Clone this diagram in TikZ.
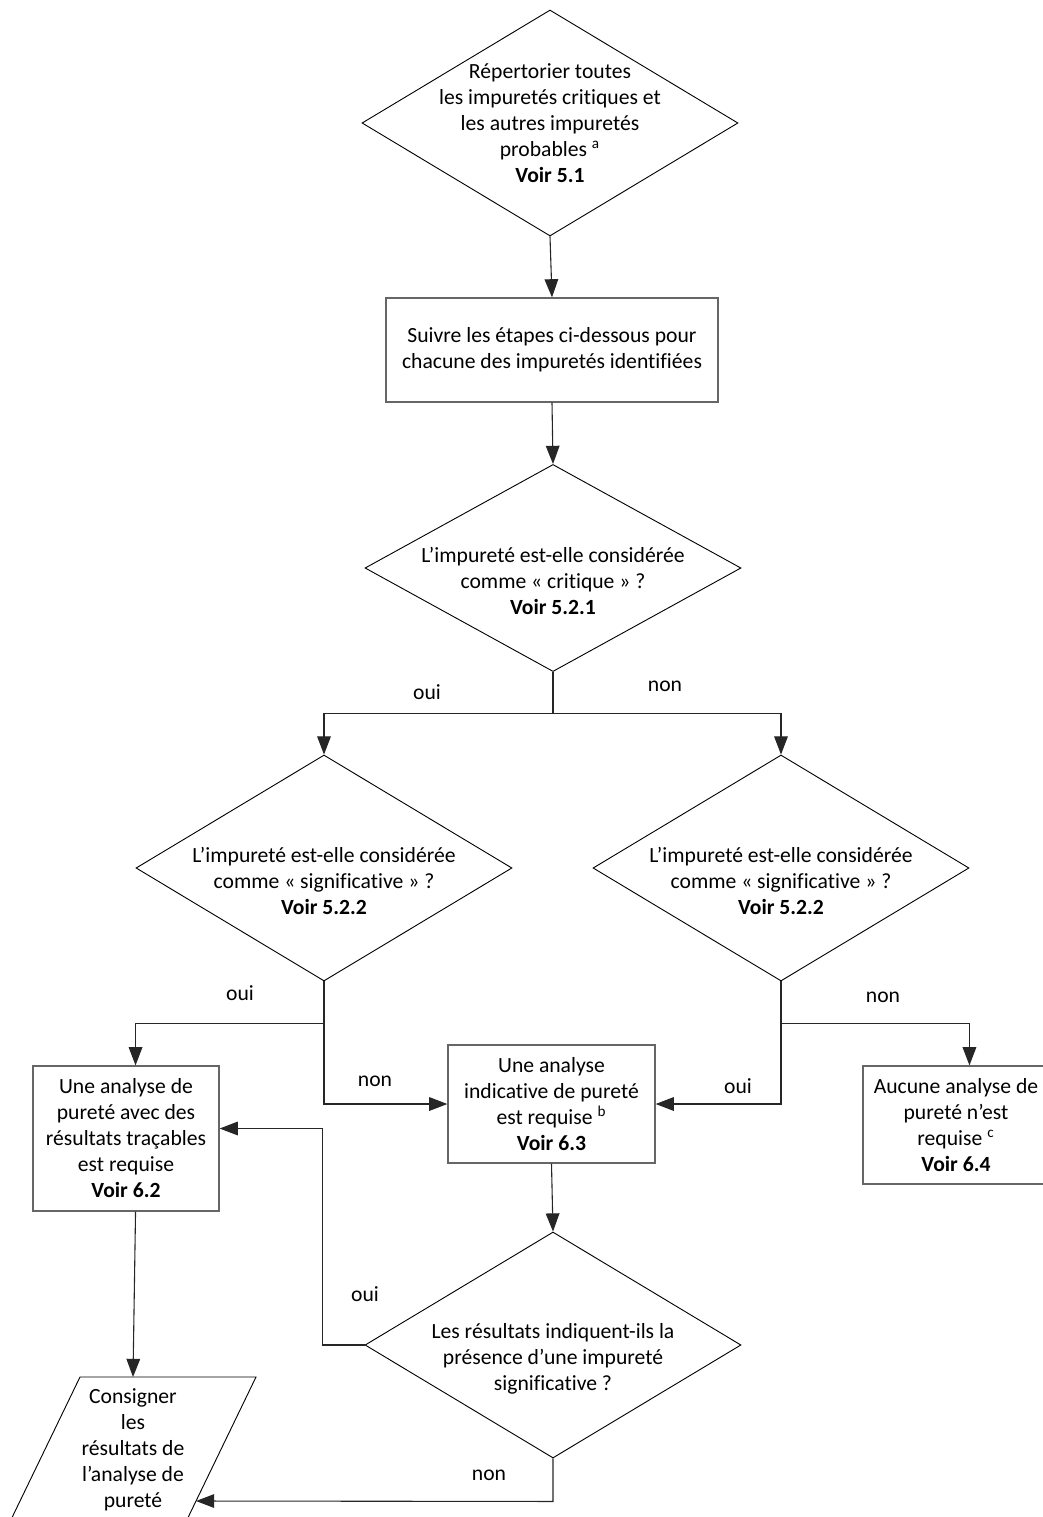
\documentclass[tikz,border=0pt]{standalone}
\usepackage{fontspec}
\setmainfont{Carlito}[Ligatures=NoCommon]
\usetikzlibrary{
    shapes.geometric,
    arrows.meta,
    calc,
    positioning
}
\newcommand{\lowr}{\rule{0pt}{23pt}}

\begin{document}
\begin{tikzpicture}[x=0.55pt, y=-0.55pt,
    every node/.style={font=\fontsize{11.9}{14.3}\selectfont, text=black},
    diam/.style={draw, diamond, shape aspect=1.66, inner sep=-12pt, align=center,
        line width=0.5pt, minimum width=206.8pt, minimum height=124.3pt},
    box/.style={draw=black!60, rectangle, align=center, line width=0.7pt, inner sep=0pt},
    lbl/.style={inner sep=1pt},
    line/.style={draw=black!85, line width=0.6pt},
    >={Triangle[length=10pt,width=7.5pt]}
]
\useasboundingbox (0,0) rectangle (1043,1517);

% steps
\node[diam] (d1) at (550,123) {R\'epertorier toutes\\les impuret\'es critiques et\\les autres impuret\'es\\probables \textsuperscript{a}\\\textbf{Voir 5.1}};
\node[box, minimum width=182.6pt, minimum height=57.2pt] (b1) at (552,350) {Suivre les \'etapes ci-dessous pour\\chacune des impuret\'es identifi\'ees};
\node[diam, shape aspect=1.82, minimum height=113.9pt] (d3) at (553,568) {\lowr L’impuret\'e est-elle consid\'er\'ee\\comme «~critique~»~?\\\textbf{Voir 5.2.1}};
\node[diam] (d4) at (324,868) {\lowr L’impuret\'e est-elle consid\'er\'ee\\comme «~significative~»~?\\\textbf{Voir 5.2.2}};
\node[diam] (d5) at (781,868) {\lowr L’impuret\'e est-elle consid\'er\'ee\\comme «~significative~»~?\\\textbf{Voir 5.2.2}};
\node[box, minimum width=102.3pt, minimum height=79.75pt] (ba) at (126,1138.5) {Une analyse de\\puret\'e avec des\\r\'esultats tra\c{c}ables\\est requise\\\textbf{Voir 6.2}};
\node[box, minimum width=113.85pt, minimum height=64.9pt] (bb) at (551.5,1104) {Une analyse\\indicative de puret\'e\\est requise \textsuperscript{b}\\\textbf{Voir 6.3}};
\node[box, minimum width=102.3pt, minimum height=64.9pt] (bc) at (956,1125) {Aucune analyse de\\puret\'e n’est\\requise \textsuperscript{c}\\\textbf{Voir 6.4}};
\node[diam] (d6) at (553,1345) {\lowr Les r\'esultats indiquent-ils la\\pr\'esence d’une impuret\'e\\significative ?};

% record (parallelogram)
\coordinate (ptl) at (80,1377);
\coordinate (ptr) at (256,1377);
\coordinate (pbr) at (182,1530);
\coordinate (pbl) at (6,1530);
\draw[line width=0.5pt] (ptl) -- (ptr) -- (pbr) -- (pbl) -- cycle;
\node[align=center] (par) at (133,1450) {Consigner\\les\\r\'esultats de\\l’analyse de\\puret\'e};
\coordinate (pin) at (133,1377);
\coordinate (pin2) at (196,1501);

% labels
\node[lbl] (oui1) at (427,692) {oui};
\node[lbl] (non1) at (665,686) {non};
\node[lbl] (oui2) at (240,993) {oui};
\node[lbl] (non2) at (375,1081) {non};
\node[lbl] (non3) at (883,997) {non};
\node[lbl] (oui3) at (738,1086) {oui};
\node[lbl] (oui4) at (365,1294) {oui};
\node[lbl] (non4) at (489,1475) {non};

% connectors
\draw[line,->] (d1.south) -- (b1.north);
\draw[line,->] (b1.south) -- (d3.north);
\draw[line,->] (d3.south) -- ++(0,41.5) coordinate (j1) -| (d4.north);
\draw[line,->] (j1) -| (d5.north);
\draw[line,->] (d4.south) -- ++(0,42) coordinate (j2) -| (d4.west |- ba.north);
\draw[line,->] (j2) |- (bb.west);
\draw[line,->] (d5.south) -- ++(0,42) coordinate (j3) -| (d5.east |- bc.north);
\draw[line,->] (j3) |- (bb.east);
\draw[line,->] (bb.south) -- (d6.north);
\draw[line,->] (d6.west) -- ++(-42,0) |- ($(ba.east)+(0,-10)$);
\draw[line,->] (d6.south) -- ++(0,43) coordinate (j4) -- (pin2);
\draw[line,->] (d4.west |- ba.south) -- (pin);
\end{tikzpicture}
\end{document}
